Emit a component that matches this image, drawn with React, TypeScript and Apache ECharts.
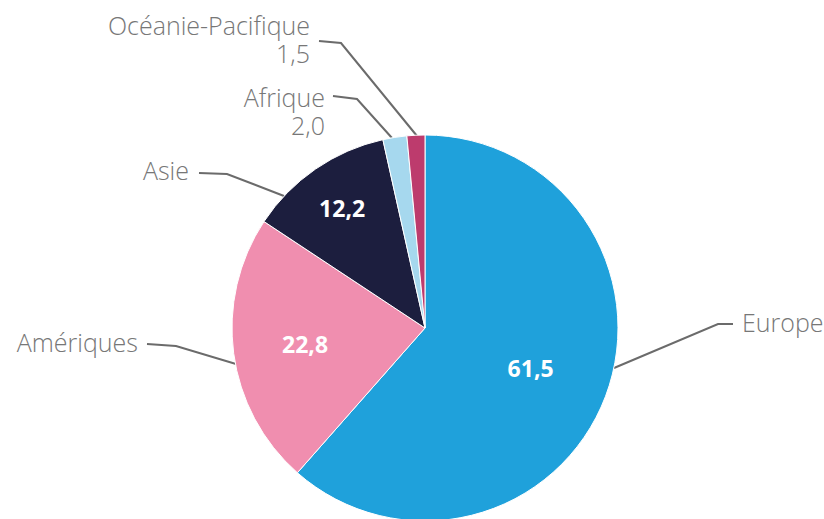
import React, { useEffect, useRef } from 'react';
import * as echarts from 'echarts';

const categories = ['Europe', 'Amériques', 'Asie', 'Afrique', 'Océanie-Pacifique'];
const values = [61.5, 22.8, 12.2, 2.0, 1.5];
const colors = ['#1fa1db', '#f08eaf', '#1c1e3e', '#a6d8ee', '#bd3b6d'];
const insideLabelShown = [true, true, true, false, false];
const valueInOutsideLabel = [false, false, false, true, true];

// Layout (not data): pie geometry and guide-line geometry relative to pie centre
const CX = 425;
const CY = 328;
const R = 193;
const LH = 28;
const FONT = "'Open Sans', 'Noto Sans', sans-serif";
const outsideGuides = [
  { start: [189, 40], elbow: [293, -4], end: [308, -4], text: [317, -6], align: 'left' },
  { start: [-189, 36], elbow: [-249, 18], end: [-278, 16], text: [-287, 14], align: 'right' },
  { start: [-141, -132], elbow: [-198, -154], end: [-226, -155], text: [-236, -158], align: 'right' },
  { start: [-33, -190], elbow: [-68, -229], end: [-92, -232], text: [-100, -231], align: 'right' },
  { start: [-8, -192], elbow: [-84, -285], end: [-106, -287], text: [-115, -303], align: 'right' },
];
const innerRadiusFraction = [0.585, 0.627, 0.757];

const fmt = (v: number) => v.toFixed(1).replace('.', ',');

export default function App() {
  const ref = useRef<HTMLDivElement>(null);
  useEffect(() => {
    document.body.style.margin = '0';
    if (!ref.current) return;
    const chart = echarts.init(ref.current, undefined, { renderer: 'svg' });
    const total = values.reduce((a, b) => a + b, 0);
    const midAngles: number[] = [];
    let cum = 0;
    values.forEach((v) => {
      midAngles.push(((cum + v / 2) / total) * Math.PI * 2);
      cum += v;
    });
    const pt = (p: number[]) => [CX + p[0], CY + p[1]];

    chart.setOption({
      animation: false,
      series: [
        {
          type: 'pie',
          center: [CX, CY],
          radius: [0, R],
          startAngle: 90,
          clockwise: true,
          avoidLabelOverlap: false,
          silent: true,
          data: categories.map((name, i) => ({
            name,
            value: values[i],
            itemStyle: { color: colors[i] },
          })),
          itemStyle: { borderColor: '#ffffff', borderWidth: 1 },
          label: {
            show: true,
            position: 'outside',
            color: '#777777',
            fontSize: 25,
            fontWeight: 300,
            fontFamily: FONT,
            lineHeight: LH,
            formatter: (p: any) =>
              valueInOutsideLabel[p.dataIndex] ? `${p.name}\n${fmt(p.value)}` : p.name,
          },
          labelLine: {
            show: true,
            smooth: false,
            lineStyle: { color: '#6b6b6b', width: 2 },
          },
          labelLayout: (p: any) => {
            const g = outsideGuides[p.dataIndex];
            return {
              x: CX + g.text[0],
              y: CY + g.text[1] - LH / 2,
              align: g.align,
              verticalAlign: 'top',
              labelLinePoints: [pt(g.start), pt(g.elbow), pt(g.end)],
            };
          },
        },
        {
          type: 'pie',
          center: [CX, CY],
          radius: [0, R],
          startAngle: 90,
          clockwise: true,
          silent: true,
          avoidLabelOverlap: false,
          data: categories.map((name, i) => ({
            name,
            value: values[i],
            label: { show: insideLabelShown[i] },
          })),
          itemStyle: { color: 'rgba(0,0,0,0)', borderWidth: 0 },
          label: {
            position: 'inside',
            color: '#ffffff',
            fontSize: 23,
            fontWeight: 'bold',
            fontFamily: FONT,
            formatter: (p: any) => fmt(p.value),
          },
          labelLine: { show: false },
          labelLayout: (p: any) => {
            const i = p.dataIndex;
            const rf = innerRadiusFraction[i] ?? 0.5;
            const a = midAngles[i];
            return {
              x: CX + rf * R * Math.sin(a),
              y: CY - rf * R * Math.cos(a),
              align: 'center',
              verticalAlign: 'middle',
            };
          },
        },
      ],
    });
    return () => chart.dispose();
  }, []);
  return (
    <div
      ref={ref}
      style={{ position: 'absolute', left: 0, top: 0, width: 824, height: 519 }}
    />
  );
}
